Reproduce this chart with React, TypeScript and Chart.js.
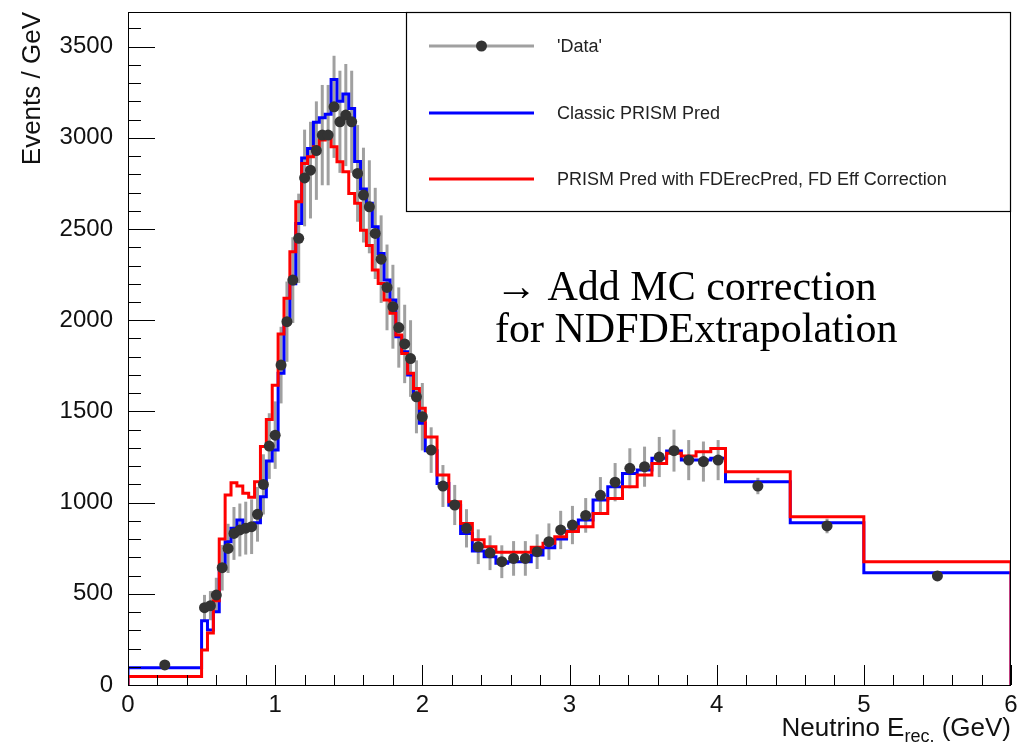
import React, { useEffect, useRef } from "react";
import { Chart, registerables } from "chart.js";

Chart.register(...registerables);

// ---------- data ----------
const BIN_EDGES = [
  0, 0.5, 0.54, 0.58, 0.62, 0.66, 0.7, 0.74, 0.78, 0.82, 0.86, 0.9, 0.94, 0.98, 1.02,
  1.06, 1.1, 1.14, 1.18, 1.22, 1.26, 1.3, 1.34, 1.38, 1.42, 1.46, 1.5, 1.54, 1.58, 1.62,
  1.66, 1.7, 1.74, 1.78, 1.82, 1.86, 1.9, 1.94, 1.98, 2.02, 2.1, 2.18, 2.26, 2.34, 2.42,
  2.5, 2.58, 2.66, 2.74, 2.82, 2.9, 2.98, 3.06, 3.16, 3.26, 3.36, 3.46, 3.56, 3.66, 3.76,
  3.86, 3.96, 4.06, 4.5, 5.0, 6.0,
];

const CLASSIC_PRED = [
  95,
  352, 301, 402, 645, 786, 859, 905, 877, 877, 890, 1032, 1228, 1288,
  1709, 1990, 2200, 2531, 2890, 2942, 3085, 3110, 3130, 3320, 3200, 3240, 3161, 2870, 2720,
  2641, 2513, 2366, 2220, 2111, 1910, 1827, 1700, 1600, 1435,
  1285, 1105, 985, 831, 735, 703, 667, 676, 676, 713, 753, 800, 845,
  905, 1014, 1087, 1160, 1179, 1243, 1283, 1233, 1233, 1243,
  1115, 890, 616,
];

const FDEREC_PRED = [
  46,
  192, 285, 462, 800, 1042, 1109, 1091, 1051, 1029, 1115, 1307, 1456, 1643,
  1925, 2120, 2376, 2650, 2860, 2896, 2951, 2988, 3000, 2951, 2869, 2814, 2695, 2641, 2494,
  2410, 2275, 2202, 2111, 2038, 1919, 1818, 1709, 1626, 1517,
  1360, 1151, 1005, 886, 797, 758, 728, 728, 728, 755, 777, 813, 841,
  868, 941, 1023, 1087, 1151, 1215, 1270, 1255, 1279, 1297,
  1169, 923, 676,
];

const DATA_VALUES = [
  110,
  424, 435, 493, 643, 749, 831, 850, 860, 868, 936, 1100, 1310, 1370,
  1754, 1992, 2220, 2449, 2780, 2823, 2930, 3015, 3015, 3170, 3088, 3125, 3088, 2805, 2686,
  2622, 2476, 2335, 2180, 2074, 1960, 1870, 1790, 1580, 1471,
  1288, 1091, 987, 859, 758, 725, 676, 694, 694, 731, 786, 850, 877,
  930, 1040, 1112, 1188, 1197, 1250, 1285, 1233, 1225, 1233,
  1091, 872, 598,
];

const DATA_ERRORS = [
  15,
  70, 80, 95, 125, 135, 145, 145, 145, 150, 150, 165, 180, 185,
  210, 220, 235, 245, 265, 265, 270, 275, 275, 280, 280, 280, 280, 265, 260,
  255, 250, 240, 235, 230, 220, 215, 210, 200, 185,
  125, 115, 110, 105, 95, 95, 90, 95, 95, 95, 100, 105, 105,
  95, 100, 105, 110, 110, 110, 115, 110, 110, 110,
  45, 40, 25,
];

const X_TICKS = [0, 1, 2, 3, 4, 5, 6];
const Y_TICKS = [0, 500, 1000, 1500, 2000, 2500, 3000, 3500];

const SERIES_LABELS = ["'Data'", "Classic PRISM Pred", "PRISM Pred with FDErecPred, FD Eff Correction"];
const NOTE_LINES = ["\u2192 Add MC correction", "for NDFDExtrapolation"];
const Y_TITLE = "Events / GeV";
const X_TITLE_PARTS = ["Neutrino E", "rec.", " (GeV)"];

const X_MIN = 0;
const X_MAX = 6;
const Y_MIN = 0;
const Y_MAX = 3690;
const X_MAJOR_STEP = 1;
const X_MINOR_STEP = 0.2;
const Y_MAJOR_STEP = 500;
const Y_MINOR_STEP = 100;

// ---------- styles ----------
const SANS = '"Liberation Sans", Arial, Helvetica, sans-serif';
const SERIF = '"Liberation Serif", "Times New Roman", serif';
const BLUE = "#0000ff";
const RED = "#ff0000";
const ERR_GRAY = "#a0a0a0";
const MARKER = "#333333";
const TEXT = "#111111";

function stepPoints(values: number[]) {
  const pts: { x: number; y: number }[] = [{ x: BIN_EDGES[0], y: 0 }];
  values.forEach((v, i) => {
    pts.push({ x: BIN_EDGES[i], y: v });
    pts.push({ x: BIN_EDGES[i + 1], y: v });
  });
  pts.push({ x: BIN_EDGES[BIN_EDGES.length - 1], y: 0 });
  return pts;
}

function binCenters() {
  return DATA_VALUES.map((_, i) => (BIN_EDGES[i] + BIN_EDGES[i + 1]) / 2);
}

const errorBarPlugin = {
  id: "errorBars",
  beforeDatasetsDraw(chart: any) {
    const { ctx, chartArea, scales } = chart;
    const xs = scales.x;
    const ys = scales.y;
    const centers = binCenters();
    ctx.save();
    ctx.beginPath();
    ctx.rect(chartArea.left, chartArea.top, chartArea.right - chartArea.left, chartArea.bottom - chartArea.top);
    ctx.clip();
    ctx.strokeStyle = ERR_GRAY;
    ctx.lineWidth = 3;
    centers.forEach((c, i) => {
      const px = xs.getPixelForValue(c);
      const y1 = ys.getPixelForValue(DATA_VALUES[i] - DATA_ERRORS[i]);
      const y2 = ys.getPixelForValue(DATA_VALUES[i] + DATA_ERRORS[i]);
      ctx.beginPath();
      ctx.moveTo(px, y1);
      ctx.lineTo(px, y2);
      ctx.stroke();
    });
    ctx.restore();
  },
};

const framePlugin = {
  id: "rootFrame",
  afterDatasetsDraw(chart: any) {
    const { ctx, chartArea, scales } = chart;
    const { left, right, top, bottom } = chartArea;
    const xs = scales.x;
    const ys = scales.y;
    ctx.save();
    ctx.strokeStyle = "#000";
    ctx.lineWidth = 1;
    ctx.strokeRect(left + 0.5, top + 0.5, right - left - 1, bottom - top);
    const nX = Math.round((X_MAX - X_MIN) / X_MINOR_STEP);
    for (let k = 0; k <= nX; k++) {
      const v = X_MIN + k * X_MINOR_STEP;
      const major = Math.abs(v / X_MAJOR_STEP - Math.round(v / X_MAJOR_STEP)) < 1e-6;
      const px = Math.round(xs.getPixelForValue(v)) + 0.5;
      const len = major ? 20 : 10;
      ctx.beginPath();
      ctx.moveTo(px, bottom);
      ctx.lineTo(px, bottom - len);
      ctx.stroke();
    }
    const nY = Math.floor((Y_MAX - Y_MIN) / Y_MINOR_STEP);
    for (let k = 0; k <= nY; k++) {
      const v = Y_MIN + k * Y_MINOR_STEP;
      const major = Math.abs(v / Y_MAJOR_STEP - Math.round(v / Y_MAJOR_STEP)) < 1e-6;
      const py = Math.round(ys.getPixelForValue(v)) + 0.5;
      const len = major ? 27 : 13;
      ctx.beginPath();
      ctx.moveTo(left, py);
      ctx.lineTo(left + len, py);
      ctx.stroke();
    }
    ctx.restore();
  },
};

const decorPlugin = {
  id: "decor",
  afterDraw(chart: any) {
    const { ctx, chartArea } = chart;
    ctx.save();

    // legend box
    const bx = 406;
    const by = chartArea.top;
    const bw = chartArea.right - bx;
    const bh = 211 - by;
    ctx.fillStyle = "#ffffff";
    ctx.fillRect(bx, by, bw, bh);
    ctx.strokeStyle = "#000";
    ctx.lineWidth = 1.2;
    ctx.strokeRect(bx + 0.5, by + 0.5, bw - 1, bh);

    const rows = [46, 113, 179];
    const sx1 = 429;
    const sx2 = 534;
    const colors = [ERR_GRAY, BLUE, RED];
    rows.forEach((ry, i) => {
      ctx.strokeStyle = colors[i];
      ctx.lineWidth = 3;
      ctx.beginPath();
      ctx.moveTo(sx1, ry);
      ctx.lineTo(sx2, ry);
      ctx.stroke();
      if (i === 0) {
        ctx.fillStyle = MARKER;
        ctx.beginPath();
        ctx.arc((sx1 + sx2) / 2, ry, 5.5, 0, Math.PI * 2);
        ctx.fill();
      }
      ctx.fillStyle = "#222";
      ctx.font = `18px ${SANS}`;
      ctx.textAlign = "left";
      ctx.textBaseline = "middle";
      ctx.fillText(SERIES_LABELS[i], 557, ry + 1);
    });

    // annotation
    ctx.fillStyle = "#000";
    ctx.font = `42px ${SERIF}`;
    ctx.textAlign = "left";
    ctx.textBaseline = "alphabetic";
    ctx.fillText(NOTE_LINES[0], 495, 300);
    ctx.fillText(NOTE_LINES[1], 495, 342);

    // y title (rotated, right-aligned to top)
    ctx.save();
    ctx.translate(40, chartArea.top);
    ctx.rotate(-Math.PI / 2);
    ctx.font = `26px ${SANS}`;
    ctx.fillStyle = TEXT;
    ctx.textAlign = "right";
    ctx.textBaseline = "alphabetic";
    ctx.fillText(Y_TITLE, 0, 0);
    ctx.restore();

    // x title with subscript, right-aligned
    ctx.fillStyle = TEXT;
    ctx.textBaseline = "alphabetic";
    ctx.textAlign = "left";
    const mainFont = `26px ${SANS}`;
    const subFont = `18px ${SANS}`;
    ctx.font = mainFont;
    const w1 = ctx.measureText(X_TITLE_PARTS[0]).width;
    const w3 = ctx.measureText(X_TITLE_PARTS[2]).width;
    ctx.font = subFont;
    const w2 = ctx.measureText(X_TITLE_PARTS[1]).width;
    const base = 736;
    const x0 = chartArea.right - (w1 + w2 + w3);
    ctx.font = mainFont;
    ctx.fillText(X_TITLE_PARTS[0], x0, base);
    ctx.font = subFont;
    ctx.fillText(X_TITLE_PARTS[1], x0 + w1, base + 6);
    ctx.font = mainFont;
    ctx.fillText(X_TITLE_PARTS[2], x0 + w1 + w2, base);

    ctx.restore();
  },
};

function zeroPadding(s: any) {
  s.paddingTop = 0;
  s.paddingBottom = 0;
  s.paddingLeft = 0;
  s.paddingRight = 0;
}

export default function App() {
  const canvasRef = useRef<HTMLCanvasElement | null>(null);

  useEffect(() => {
    document.body.style.margin = "0";
    const canvas = canvasRef.current;
    if (!canvas) return;
    const centers = binCenters();
    const chart = new Chart(canvas, {
      type: "scatter",
      data: {
        datasets: [
          {
            label: SERIES_LABELS[0],
            data: centers.map((c, i) => ({ x: c, y: DATA_VALUES[i] })),
            showLine: false,
            pointRadius: 5.5,
            pointBackgroundColor: MARKER,
            pointBorderWidth: 0,
            order: 0,
          },
          {
            label: SERIES_LABELS[2],
            data: stepPoints(FDEREC_PRED),
            showLine: true,
            borderColor: RED,
            borderWidth: 3,
            pointRadius: 0,
            borderJoinStyle: "miter",
            order: 1,
          },
          {
            label: SERIES_LABELS[1],
            data: stepPoints(CLASSIC_PRED),
            showLine: true,
            borderColor: BLUE,
            borderWidth: 3,
            pointRadius: 0,
            borderJoinStyle: "miter",
            order: 2,
          },
        ],
      } as any,
      options: {
        animation: false,
        responsive: false,
        devicePixelRatio: 1,
        events: [],
        layout: { padding: { left: 0, right: 9, top: 12, bottom: 0 } },
        plugins: { legend: { display: false }, tooltip: { enabled: false } },
        scales: {
          x: {
            type: "linear",
            min: X_MIN,
            max: X_MAX,
            grid: { display: false, drawTicks: false },
            border: { display: false },
            afterBuildTicks: (s: any) => {
              s.ticks = X_TICKS.map((v) => ({ value: v }));
            },
            ticks: {
              padding: 6,
              maxRotation: 0,
              minRotation: 0,
              autoSkip: false,
              color: TEXT,
              font: { family: SANS, size: 24 },
              callback: (v: any) => String(v),
            },
            afterFit: (s: any) => {
              s.height = 61;
              zeroPadding(s);
            },
          },
          y: {
            type: "linear",
            min: Y_MIN,
            max: Y_MAX,
            grid: { display: false, drawTicks: false },
            border: { display: false },
            afterBuildTicks: (s: any) => {
              s.ticks = Y_TICKS.map((v) => ({ value: v }));
            },
            ticks: {
              padding: 15,
              autoSkip: false,
              color: TEXT,
              font: { family: SANS, size: 24 },
              callback: (v: any) => String(v),
            },
            afterFit: (s: any) => {
              s.width = 128;
              zeroPadding(s);
            },
          },
        },
      } as any,
      plugins: [errorBarPlugin, framePlugin, decorPlugin],
    });
    return () => chart.destroy();
  }, []);

  return (
    <div style={{ width: 1020, height: 746, background: "#fff" }}>
      <canvas ref={canvasRef} width={1020} height={746} style={{ display: "block" }} />
    </div>
  );
}
